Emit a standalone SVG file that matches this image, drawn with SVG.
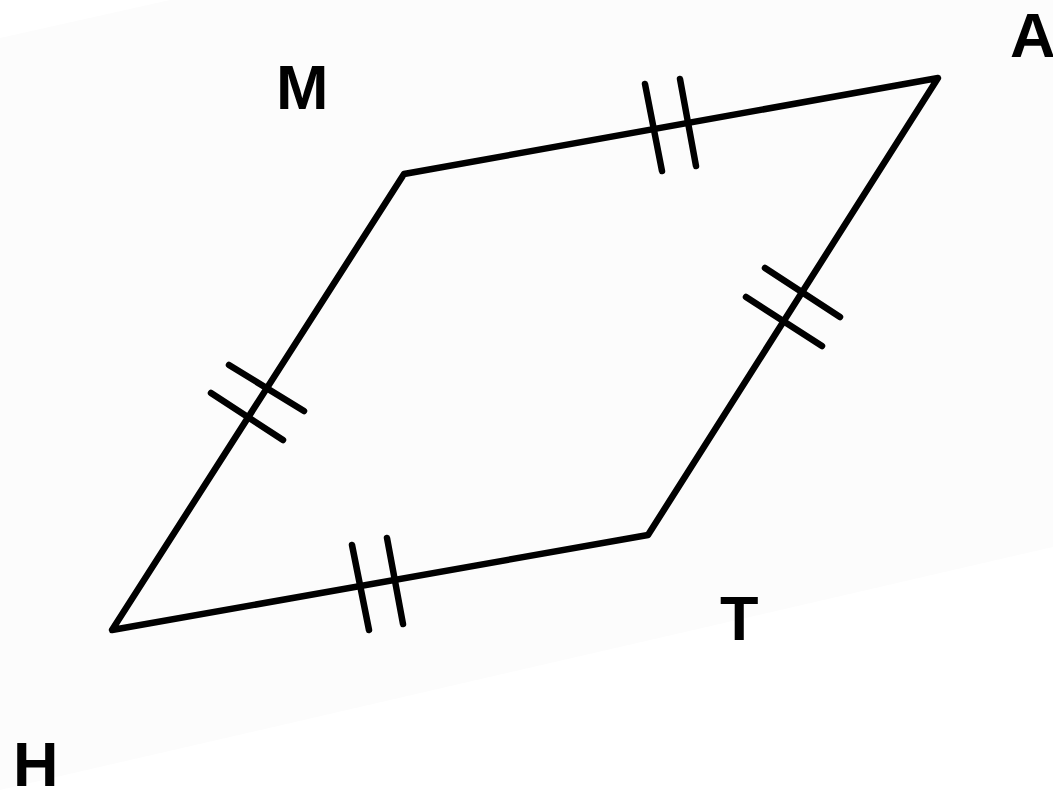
<svg xmlns="http://www.w3.org/2000/svg" width="1053" height="790" viewBox="0 0 1053 790">
<style>
.edge{fill:none;stroke:#000;stroke-width:6.5;stroke-linejoin:round;stroke-linecap:round}
.tick{stroke:#000;stroke-width:6.5;stroke-linecap:round}
.lbl{font-family:"Liberation Sans",Arial,sans-serif;font-weight:bold;font-size:63px;fill:#000}
</style>
<rect width="1053" height="790" fill="#ffffff"/>
<polygon points="0,38 170,0 1053,0 1053,547 0,790" fill="#fcfcfc"/>
<g id="shape">
<polygon class="edge" points="112,630 404,174 938,78 648,535"/>
</g>
<g id="ticks">
<line class="tick" x1="645" y1="84" x2="662" y2="171"/>
<line class="tick" x1="680" y1="79" x2="696" y2="166"/>
<line class="tick" x1="352" y1="545" x2="369" y2="630"/>
<line class="tick" x1="387" y1="538" x2="403" y2="624"/>
<line class="tick" x1="211" y1="393" x2="283" y2="440"/>
<line class="tick" x1="229" y1="365" x2="304" y2="411"/>
<line class="tick" x1="746" y1="297" x2="822" y2="346"/>
<line class="tick" x1="765" y1="268" x2="840" y2="317"/>
</g>
<g id="labels">
<text class="lbl" x="276" y="109">M</text>
<text class="lbl" x="1010" y="57">A</text>
<text class="lbl" x="720" y="640">T</text>
<text class="lbl" x="13" y="786">H</text>
</g>
</svg>
